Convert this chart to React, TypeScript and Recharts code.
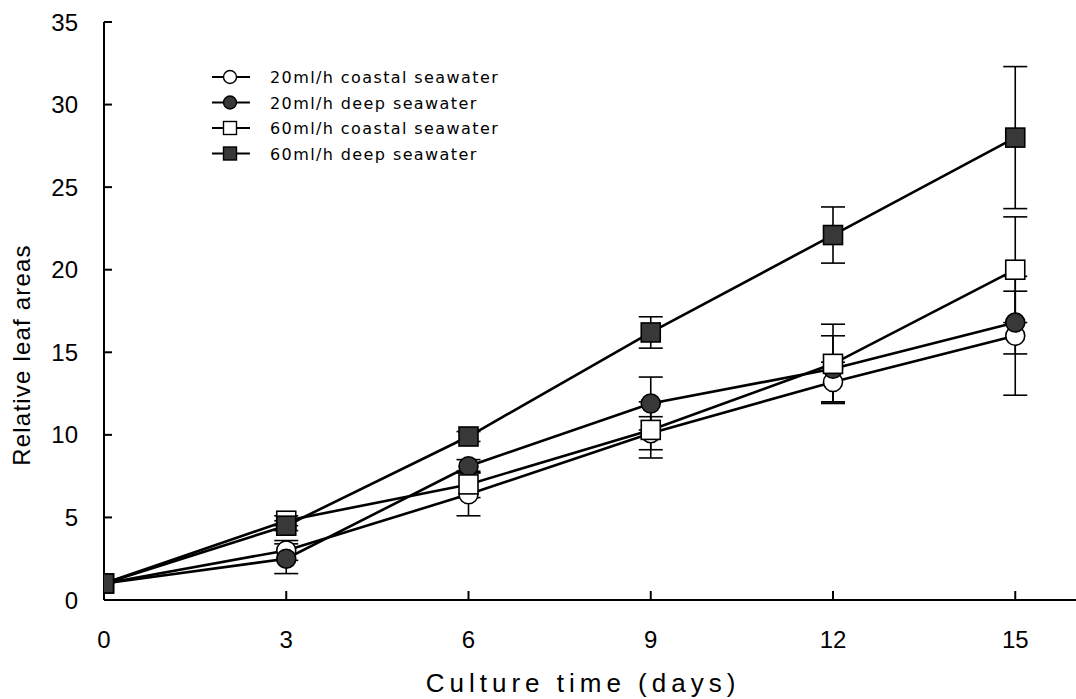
import React from 'react';
import { LineChart, Line, XAxis, YAxis, ErrorBar } from 'recharts';

const days = [0, 3, 6, 9, 12, 15];
const seriesNames = [
  '20ml/h coastal seawater',
  '20ml/h deep seawater',
  '60ml/h coastal seawater',
  '60ml/h deep seawater',
];
const coastal20 = [1.0, 3.0, 6.4, 10.1, 13.2, 16.0];
const coastal20Err = [0, 0.6, 1.3, 1.0, 1.2, 3.6];
const deep20 = [1.0, 2.5, 8.1, 11.9, 14.0, 16.8];
const deep20Err = [0, 0.9, 0.4, 1.6, 2.0, 1.9];
const coastal60 = [1.0, 4.8, 7.0, 10.3, 14.3, 20.0];
const coastal60Err = [0, 0.3, 0.8, 1.7, 2.4, 3.2];
const deep60 = [1.0, 4.5, 9.9, 16.2, 22.1, 28.0];
const deep60Err = [0, 0.3, 0.3, 0.95, 1.7, 4.3];
const xTicks = [0, 3, 6, 9, 12, 15];
const yTicks = [0, 5, 10, 15, 20, 25, 30, 35];
const xTitle = 'Culture time (days)';
const yTitle = 'Relative leaf areas';

const data = days.map((d, i) => ({
  day: d,
  c20: coastal20[i],
  c20e: coastal20Err[i],
  d20: deep20[i],
  d20e: deep20Err[i],
  c60: coastal60[i],
  c60e: coastal60Err[i],
  d60: deep60[i],
  d60e: deep60Err[i],
}));

const FILL = '#383838';
const FONT = 'Liberation Sans, Arial, sans-serif';

type Shape = 'circle' | 'square';

const makeDot = (shape: Shape, filled: boolean, size: number) => (props: any) => {
  const { cx, cy, index } = props;
  if (cx == null || cy == null) return <g key={index} />;
  const h = size / 2;
  const fill = filled ? FILL : '#ffffff';
  if (shape === 'circle') {
    return <circle key={index} cx={cx} cy={cy} r={h} fill={fill} stroke="#000" strokeWidth={1.6} />;
  }
  return <rect key={index} x={cx - h} y={cy - h} width={size} height={size} fill={fill} stroke="#000" strokeWidth={1.6} />;
};

const legendItems: { name: string; shape: Shape; filled: boolean }[] = [
  { name: seriesNames[0], shape: 'circle', filled: false },
  { name: seriesNames[1], shape: 'circle', filled: true },
  { name: seriesNames[2], shape: 'square', filled: false },
  { name: seriesNames[3], shape: 'square', filled: true },
];

const LegendBox = () => (
  <svg width={340} height={110} style={{ position: 'absolute', left: 206, top: 67 }}>
    {legendItems.map((it, i) => {
      const y = 10 + i * 25.5;
      const cx = 24;
      const fill = it.filled ? FILL : '#fff';
      return (
        <g key={it.name}>
          <line x1={6} x2={44} y1={y} y2={y} stroke="#000" strokeWidth={2} />
          {it.shape === 'circle' ? (
            <circle cx={cx} cy={y} r={6.5} fill={fill} stroke="#000" strokeWidth={1.4} />
          ) : (
            <rect x={cx - 6.5} y={y - 6.5} width={13} height={13} fill={fill} stroke="#000" strokeWidth={1.4} />
          )}
          <text x={64} y={y + 6} fontSize={16} letterSpacing={1.4} fontFamily="DejaVu Sans, sans-serif" fill="#000">
            {it.name}
          </text>
        </g>
      );
    })}
  </svg>
);

const XTitle = (props: any) => {
  const vb = props.viewBox || {};
  return (
    <text x={vb.x + vb.width / 2 - 7} y={vb.y + 92} textAnchor="middle" fontSize={26} letterSpacing={5} fontFamily={FONT} fill="#000">
      {xTitle}
    </text>
  );
};

const YTitle = (props: any) => {
  const vb = props.viewBox || {};
  const x = vb.x + vb.width - 104 + 30;
  const y = 355;
  return (
    <text x={x} y={y} transform={`rotate(-90 ${x} ${y})`} textAnchor="middle" fontSize={24} letterSpacing={1.2} fontFamily={FONT} fill="#000">
      {yTitle}
    </text>
  );
};

export default function App() {
  return (
    <div style={{ position: 'absolute', left: 0, top: 0, width: 1076, height: 699, background: '#fff' }}>
      <LineChart width={1076} height={699} data={data} margin={{ top: 22, right: 0, bottom: 0, left: 44 }}>
        <XAxis
          dataKey="day"
          type="number"
          domain={[0, 16]}
          ticks={xTicks}
          allowDataOverflow
          axisLine={{ stroke: '#000', strokeWidth: 2 }}
          tickLine={{ stroke: '#000', strokeWidth: 2 }}
          tickSize={-9}
          tickMargin={40}
          tick={{ fill: '#000', fontSize: 24, fontFamily: FONT }}
          label={<XTitle />}
          height={99}
        />
        <YAxis
          type="number"
          domain={[0, 35]}
          ticks={yTicks}
          width={60}
          axisLine={{ stroke: '#000', strokeWidth: 2 }}
          tickLine={{ stroke: '#000', strokeWidth: 2 }}
          tickSize={-8}
          tickMargin={34}
          tick={{ fill: '#000', fontSize: 24, fontFamily: FONT }}
          label={<YTitle />}
        />
        <Line dataKey="c20" name={seriesNames[0]} stroke="#000" strokeWidth={2.6} isAnimationActive={false} dot={makeDot('circle', false, 19)} activeDot={false}>
          <ErrorBar dataKey="c20e" width={12} stroke="#000" strokeWidth={1.6} />
        </Line>
        <Line dataKey="d20" name={seriesNames[1]} stroke="#000" strokeWidth={2.6} isAnimationActive={false} dot={makeDot('circle', true, 19)} activeDot={false}>
          <ErrorBar dataKey="d20e" width={12} stroke="#000" strokeWidth={1.6} />
        </Line>
        <Line dataKey="c60" name={seriesNames[2]} stroke="#000" strokeWidth={2.6} isAnimationActive={false} dot={makeDot('square', false, 19)} activeDot={false}>
          <ErrorBar dataKey="c60e" width={12} stroke="#000" strokeWidth={1.6} />
        </Line>
        <Line dataKey="d60" name={seriesNames[3]} stroke="#000" strokeWidth={2.6} isAnimationActive={false} dot={makeDot('square', true, 19)} activeDot={false}>
          <ErrorBar dataKey="d60e" width={12} stroke="#000" strokeWidth={1.6} />
        </Line>
      </LineChart>
      <LegendBox />
    </div>
  );
}
